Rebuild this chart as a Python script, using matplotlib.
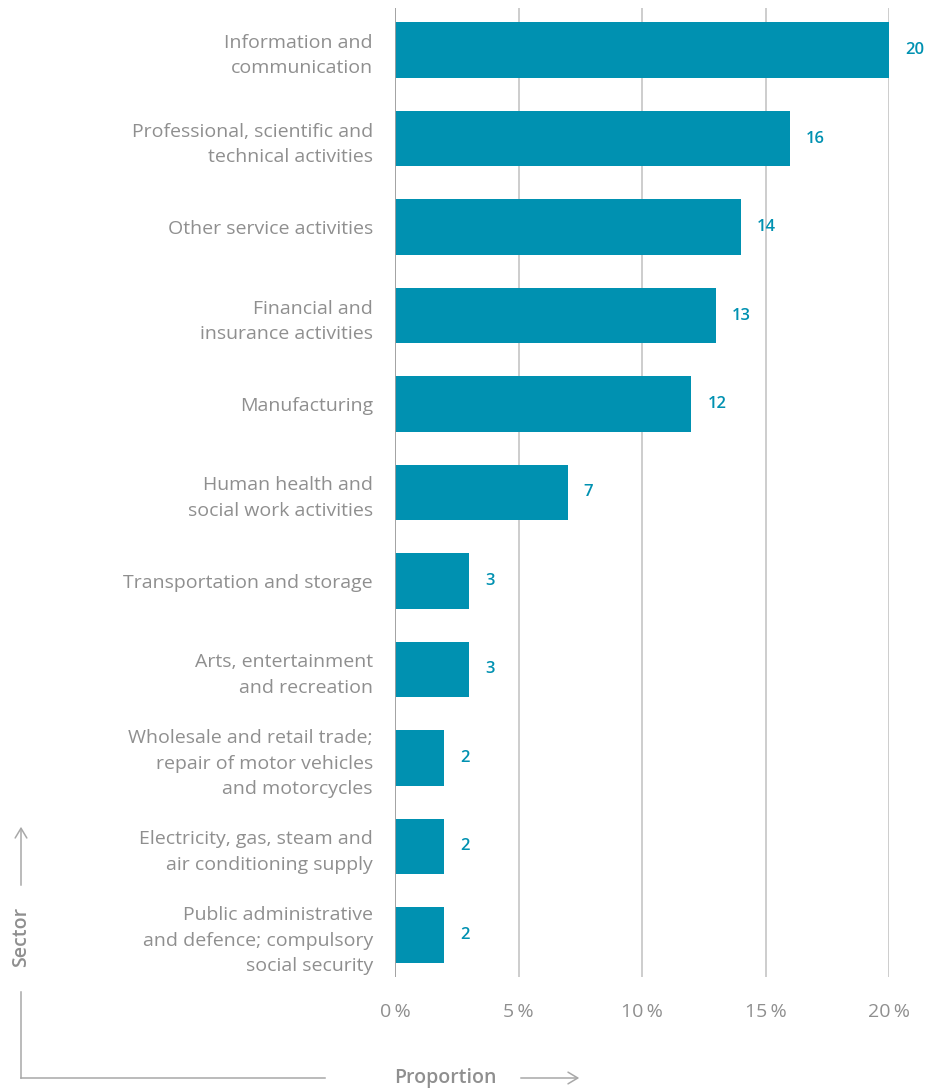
import matplotlib.pyplot as plt
from matplotlib.patches import FancyArrowPatch
from matplotlib.ticker import FuncFormatter

plt.rcParams['font.family'] = ['Open Sans', 'DejaVu Sans']

# sector shares in percent, top to bottom
sectors = [
    "Information and\ncommunication",
    "Professional, scientific and\ntechnical activities",
    "Other service activities",
    "Financial and\ninsurance activities",
    "Manufacturing",
    "Human health and\nsocial work activities",
    "Transportation and storage",
    "Arts, entertainment\nand recreation",
    "Wholesale and retail trade;\nrepair of motor vehicles\nand motorcycles",
    "Electricity, gas, steam and\nair conditioning supply",
    "Public administrative\nand defence; compulsory\nsocial security",
]
shares = [20, 16, 14, 13, 12, 7, 3, 3, 2, 2, 2]
xticks = [0, 5, 10, 15, 20]

bar_color = '#0091b1'
text_gray = '#8f8f8f'
grid_gray = '#c9c9c9'

fig = plt.figure(figsize=(9.28, 10.91), dpi=100)
ax = fig.add_axes([395 / 928, 1 - 977 / 1091, (889 - 395) / 928, (977 - 8) / 1091])

ypos = list(range(len(sectors)))
ax.barh(ypos, shares, height=0.63, color=bar_color, zorder=3)

for y, v in zip(ypos, shares):
    ax.annotate(str(v), (v, y), xytext=(11.5, 0), textcoords='offset points',
                ha='left', va='center', fontsize=12, fontweight='semibold',
                color=bar_color, annotation_clip=False)

ax.set_xlim(0, 20)
ax.set_ylim(len(sectors) - 0.525, -0.475)
ax.set_xticks(xticks)
ax.xaxis.set_major_formatter(FuncFormatter(lambda v, _: f"{v:.0f}\u2009%"))
ax.set_yticks(ypos)
ax.set_yticklabels(sectors, linespacing=1.52)

ax.tick_params(axis='x', length=0, pad=19, labelsize=14, labelcolor=text_gray)
ax.tick_params(axis='y', length=0, pad=16, labelsize=14, labelcolor=text_gray)

for s in ax.spines.values():
    s.set_visible(False)
ax.grid(axis='x', color=grid_gray, linewidth=1.3, zorder=1)
ax.axvline(0, color='#a0a0a0', linewidth=1.3, zorder=4)

# corner axis guides with arrows
line_kw = dict(color='#a8a8a8', linewidth=1.1)
W, H = 928, 1091
fx = lambda px: px / W
fy = lambda py: 1 - py / H
fig.add_artist(plt.Line2D([fx(21), fx(21)], [fy(992), fy(1078)], **line_kw))
fig.add_artist(plt.Line2D([fx(21), fx(325)], [fy(1078), fy(1078)], **line_kw))
fig.patches.append(FancyArrowPatch(
    (fx(21), fy(888)), (fx(21), fy(824)), transform=fig.transFigure,
    arrowstyle='->,head_length=0.5,head_width=0.3', mutation_scale=14, **line_kw))
fig.patches.append(FancyArrowPatch(
    (fx(518), fy(1078)), (fx(582), fy(1078)), transform=fig.transFigure,
    arrowstyle='->,head_length=0.5,head_width=0.3', mutation_scale=14, **line_kw))
fig.text(fx(21), fy(937), "Sector", rotation=90, ha='center', va='center',
         fontsize=14, fontweight='semibold', color=text_gray)
fig.text(fx(445), fy(1078), "Proportion", ha='center', va='center',
         fontsize=14, fontweight='semibold', color=text_gray)

fig.savefig('out.png', dpi=100)
